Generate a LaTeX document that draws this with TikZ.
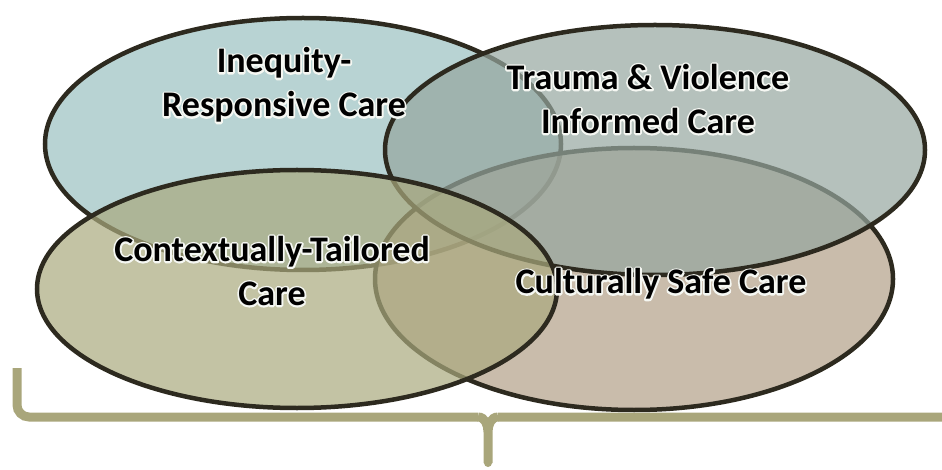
\documentclass[tikz,border=0pt]{standalone}
\usepackage{fontspec}
\setmainfont{Carlito}

\definecolor{lineDark}{HTML}{2D2A1F}
\definecolor{braceOlive}{HTML}{A9A67B}
\definecolor{fillBlue}{HTML}{9AC0C0}
\definecolor{fillGrey}{HTML}{95A69F}
\definecolor{fillTan}{HTML}{B29F88}
\definecolor{fillOlive}{HTML}{A9A97E}

% white halo behind a line of text (stroked copy, then the filled one)
\newcommand{\glow}[1]{\leavevmode\rlap{\special{pdf:code 1 Tr 0.96 0.97 0.95 RG 3.6 w 1 j}#1\special{pdf:code 0 Tr 0 0 0 RG 0 j}}#1}

\begin{document}
\begin{tikzpicture}
  [x=1pt, y=-1pt,
   care/.style={draw=lineDark, line width=4.5pt, fill opacity=0.7},
   every node/.style={font=\fontsize{36}{44}\selectfont\bfseries, align=center, text=black}]
  \useasboundingbox (0,0) rectangle (942,470);

  % the four circles of care
  \path[care, fill=fillBlue]  (303,144) ellipse [x radius=258, y radius=126];
  \path[care, fill=fillTan]   (634,279) ellipse [x radius=259, y radius=131];
  \path[care, fill=fillGrey]  (655,150) ellipse [x radius=270, y radius=125];
  \path[care, fill=fillOlive] (297,289) ellipse [x radius=260, y radius=119];

  % labels
  \node (inequity)   at (284,85)  {\glow{Inequity-}\\\glow{Responsive Care}};
  \node (trauma)     at (648,99)  {\glow{Trauma \& Violence}\\\glow{Informed Care}};
  \node (context)    at (272,271) {\glow{Contextually-Tailored}\\\glow{Care}};
  \node (culture)    at (661,284) {\glow{Culturally Safe Care}};

  % brace underneath
  \draw[braceOlive, line width=9pt, rounded corners=12pt]
    (17,368) -- (17,417) -- (478,417);
  \draw[braceOlive, line width=9pt, rounded corners=12pt]
    (959,368) -- (959,417) -- (498,417);
  \draw[braceOlive, line width=9pt]
    (478,417) to[out=0,in=90] (488,432) -- (488,463)
    (498,417) to[out=180,in=90] (488,432);
  \fill[braceOlive] (488,463) circle (4pt);
\end{tikzpicture}
\end{document}
